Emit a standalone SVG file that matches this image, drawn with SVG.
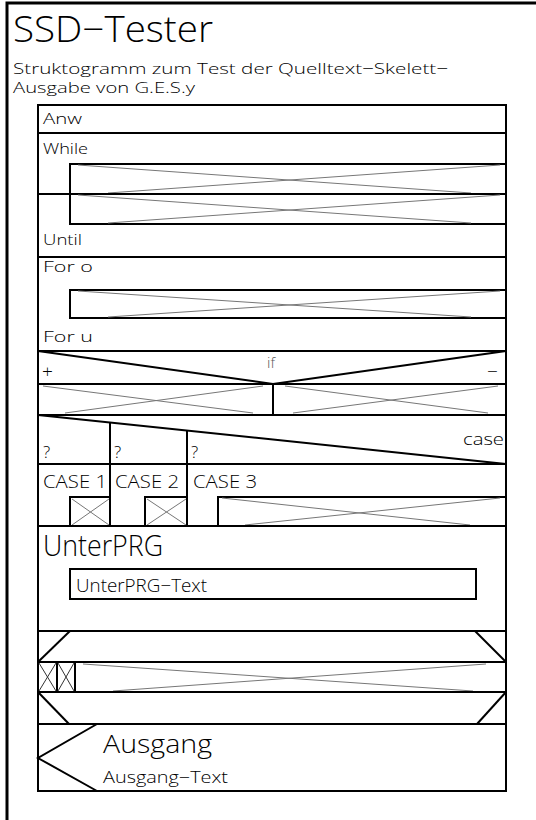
<svg xmlns="http://www.w3.org/2000/svg" width="536" height="820" viewBox="0 0 536 820">
<style>
  .k { stroke: #000; stroke-width: 2; fill: none; }
  .f { stroke: #000; stroke-width: 3; fill: none; }
  .g { stroke: #777; stroke-width: 1; fill: none; }
  .x { stroke: #333; stroke-width: 1; fill: none; }
  text { font-family: "Open Sans", "Liberation Sans", Arial, sans-serif; font-weight: 300; fill: #000; }
</style>
<rect x="0" y="0" width="536" height="820" fill="#fff"/>
<g id="frame">
  <path class="f" d="M7,820 V3 H536"/>
</g>
<g id="header">
  <text x="13" y="42" font-size="36" textLength="200" lengthAdjust="spacingAndGlyphs">SSD−Tester</text>
  <text x="13" y="74" font-size="15" textLength="435" lengthAdjust="spacingAndGlyphs">Struktogramm zum Test der Quelltext−Skelett−</text>
  <text x="13" y="93" font-size="15" textLength="182" lengthAdjust="spacingAndGlyphs">Ausgabe von G.E.S.y</text>
</g>
<g id="connectors">
  <path class="k" d="M38,105 H506 V791 H38 Z"/>
</g>
<g id="anw">
  <line class="k" x1="38" y1="133" x2="506" y2="133"/>
  <text x="43" y="124" font-size="15" textLength="39" lengthAdjust="spacingAndGlyphs">Anw</text>
</g>
<g id="while">
  <text x="43" y="154" font-size="15" textLength="45" lengthAdjust="spacingAndGlyphs">While</text>
  <path class="k" d="M506,164 H70 V194"/>
  <line class="g" x1="78" y1="165" x2="471" y2="193"/>
  <line class="g" x1="108" y1="193" x2="500" y2="165"/>
  <line class="k" x1="38" y1="194" x2="506" y2="194"/>
</g>
<g id="until">
  <path class="k" d="M70,194 V224 H506"/>
  <line class="g" x1="78" y1="195" x2="471" y2="223"/>
  <line class="g" x1="108" y1="223" x2="500" y2="195"/>
  <text x="43" y="245" font-size="15" textLength="39" lengthAdjust="spacingAndGlyphs">Until</text>
  <line class="k" x1="38" y1="257" x2="506" y2="257"/>
</g>
<g id="for">
  <text x="43" y="272" font-size="15" textLength="50" lengthAdjust="spacingAndGlyphs">For  o</text>
  <path class="k" d="M506,290 H70 V318 H506"/>
  <line class="g" x1="78" y1="291" x2="471" y2="317"/>
  <line class="g" x1="108" y1="317" x2="500" y2="291"/>
  <text x="43" y="342" font-size="15" textLength="50" lengthAdjust="spacingAndGlyphs">For  u</text>
  <line class="k" x1="38" y1="351" x2="506" y2="351"/>
</g>
<g id="if">
  <path class="k" d="M38,351 L273,384 L506,351"/>
  <text x="42" y="378" font-size="19">+</text>
  <text x="267" y="368" font-size="15" style="fill:#555">if</text>
  <text x="487" y="378" font-size="19">−</text>
  <line class="k" x1="38" y1="384" x2="506" y2="384"/>
  <line class="k" x1="273" y1="384" x2="273" y2="415"/>
  <line class="g" x1="43" y1="386" x2="253" y2="413"/>
  <line class="g" x1="65" y1="413" x2="263" y2="386"/>
  <line class="g" x1="285" y1="386" x2="488" y2="413"/>
  <line class="g" x1="293" y1="413" x2="498" y2="386"/>
  <line class="k" x1="38" y1="415" x2="506" y2="415"/>
</g>
<g id="case">
  <line class="k" x1="38" y1="415" x2="506" y2="464"/>
  <line class="k" x1="110" y1="423" x2="110" y2="526"/>
  <line class="k" x1="187" y1="431" x2="187" y2="526"/>
  <text x="43" y="458" font-size="17">?</text>
  <text x="114" y="458" font-size="17">?</text>
  <text x="191" y="458" font-size="17">?</text>
  <text x="463" y="445" font-size="16" textLength="41" lengthAdjust="spacingAndGlyphs">case</text>
  <line class="k" x1="38" y1="464" x2="506" y2="464"/>
  <text x="43" y="488" font-size="18" textLength="64" lengthAdjust="spacingAndGlyphs">CASE 1</text>
  <text x="115" y="488" font-size="18" textLength="64" lengthAdjust="spacingAndGlyphs">CASE 2</text>
  <text x="193" y="488" font-size="18" textLength="64" lengthAdjust="spacingAndGlyphs">CASE 3</text>
  <path class="k" d="M70,526 V497 H110"/>
  <line class="g" x1="72" y1="499" x2="109" y2="525"/>
  <line class="g" x1="72" y1="525" x2="109" y2="499"/>
  <path class="k" d="M145,526 V497 H187"/>
  <line class="g" x1="147" y1="499" x2="186" y2="525"/>
  <line class="g" x1="147" y1="525" x2="186" y2="499"/>
  <path class="k" d="M218,526 V497 H506"/>
  <line class="g" x1="222" y1="498" x2="470" y2="525"/>
  <line class="g" x1="245" y1="525" x2="500" y2="498"/>
  <line class="k" x1="38" y1="526" x2="506" y2="526"/>
</g>
<g id="unterprg">
  <text x="43" y="556" font-size="29" textLength="120" lengthAdjust="spacingAndGlyphs">UnterPRG</text>
  <rect class="k" x="70" y="569" width="406" height="30"/>
  <text x="76" y="592" font-size="19" textLength="131" lengthAdjust="spacingAndGlyphs">UnterPRG−Text</text>
  <line class="k" x1="38" y1="631" x2="506" y2="631"/>
</g>
<g id="loop">
  <line class="k" x1="38" y1="662" x2="70" y2="631"/>
  <line class="k" x1="475" y1="631" x2="506" y2="662"/>
  <line class="k" x1="38" y1="662" x2="506" y2="662"/>
  <path class="k" d="M57,662 V692 M75,662 V692"/>
  <path class="x" d="M39,663 L56,691 M39,691 L56,663 M58,663 L74,691 M58,691 L74,663"/>
  <line class="g" x1="83" y1="664" x2="473" y2="691"/>
  <line class="g" x1="113" y1="691" x2="486" y2="664"/>
  <line class="k" x1="38" y1="692" x2="506" y2="692"/>
  <line class="k" x1="38" y1="692" x2="69" y2="724"/>
  <line class="k" x1="506" y1="692" x2="477" y2="724"/>
  <line class="k" x1="38" y1="724" x2="506" y2="724"/>
</g>
<g id="ausgang">
  <path class="k" d="M97,724 L38,758 L97,791"/>
  <text x="103" y="753" font-size="25" textLength="109" lengthAdjust="spacingAndGlyphs">Ausgang</text>
  <text x="103" y="783" font-size="16" textLength="125" lengthAdjust="spacingAndGlyphs">Ausgang−Text</text>
</g>
</svg>
